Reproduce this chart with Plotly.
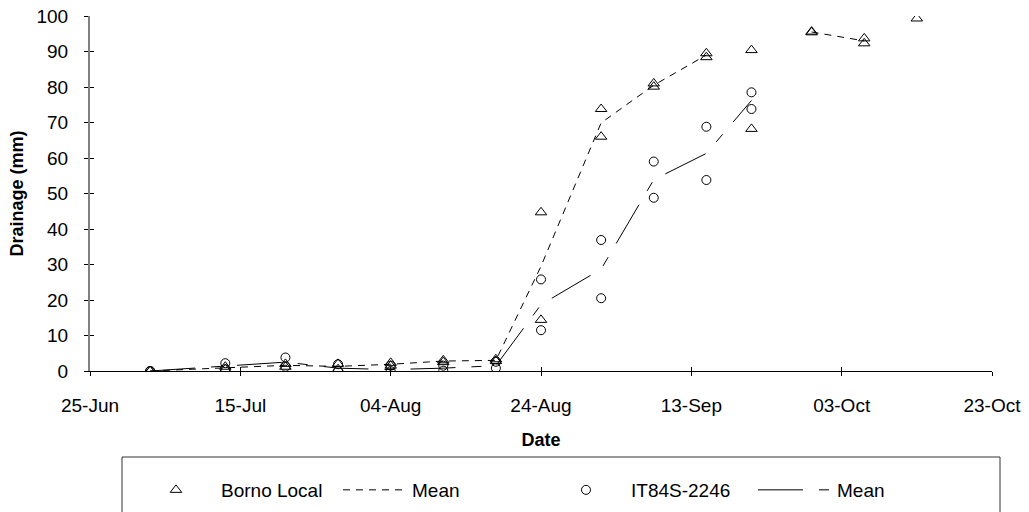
import plotly.graph_objects as go

# ---- data ----
dates = ["2000-07-03", "2000-07-13", "2000-07-21", "2000-07-28", "2000-08-04",
         "2000-08-11", "2000-08-18", "2000-08-24", "2000-09-01", "2000-09-08",
         "2000-09-15", "2000-09-21", "2000-09-29", "2000-10-06", "2000-10-13"]

borno_rep1 = [0, 0.5, 1.2, 0.5, 1.5, 2.5, 2.8, 44.7, 73.8, 81.0, 89.5, 90.4, 95.6, 93.7, 99.3]
borno_rep2 = [0, 1.2, 2.0, 2.0, 2.3, 3.0, 3.3, 14.4, 66.0, 80.1, 88.4, 68.2, 95.4, 92.3, None]
borno_mean = [0, 0.8, 1.6, 1.3, 1.9, 2.8, 3.0, 29.5, 69.9, 80.5, 89.0, None, 95.5, 93.0, None]

it_rep1 = [0, 2.2, 3.8, 1.9, 1.5, 1.5, 2.6, 25.8, 36.9, 59.0, 68.8, 78.5, None, None, None]
it_rep2 = [0, 0.5, 1.2, 0.0, 0.0, 0.1, 0.8, 11.5, 20.5, 48.8, 53.8, 73.8, None, None, None]
it_mean = [0, 1.3, 2.5, 0.8, 0.4, 0.8, 1.5, 18.7, 28.7, 53.9, 61.3, 76.2, None, None, None]

x_tick_vals = ["2000-06-25", "2000-07-15", "2000-08-04", "2000-08-24",
               "2000-09-13", "2000-10-03", "2000-10-23"]
x_tick_text = ["25-Jun", "15-Jul", "04-Aug", "24-Aug", "13-Sep", "03-Oct", "23-Oct"]
y_tick_vals = [0, 10, 20, 30, 40, 50, 60, 70, 80, 90, 100]

series_names = ["Borno Local", "Mean", "IT84S-2246", "Mean"]

FONT = "Liberation Sans, Arial, sans-serif"
FS = 19

fig = go.Figure()
fig.add_trace(go.Scatter(
    x=dates + dates, y=borno_rep1 + borno_rep2, mode="markers", name=series_names[0],
    marker=dict(symbol="triangle-up-open", size=10, color="black", line=dict(width=1, color="black")),
    legend="legend"))
fig.add_trace(go.Scatter(
    x=dates, y=borno_mean, mode="lines", name=series_names[1],
    line=dict(color="black", width=1, dash="7px,6px"), connectgaps=False,
    legend="legend2"))
fig.add_trace(go.Scatter(
    x=dates + dates, y=it_rep1 + it_rep2, mode="markers", name=series_names[2],
    marker=dict(symbol="circle-open", size=9, color="black", line=dict(width=1, color="black")),
    legend="legend3"))
fig.add_trace(go.Scatter(
    x=dates, y=it_mean, mode="lines", name=series_names[3],
    line=dict(color="black", width=1, dash="45px,16px,10px,16px"), connectgaps=False,
    legend="legend4"))
# empty helper trace so the overlay axes (inner half of the crossing ticks) get drawn
fig.add_trace(go.Scatter(x=[], y=[], xaxis="x2", yaxis="y2", showlegend=False,
                         hoverinfo="skip", mode="markers"))

# plot area at 90..992 x 16..371 (page body margin removed by post_script)
L, R, T = 90, 37, 16
W, H = 1029, 512
pw, ph = 902, 355
B = H - T - ph

def px(p):  # page pixel -> paper x
    return (p - 90) / pw

def py(p):  # page pixel -> paper y
    return (371 - p) / ph

leg_common = dict(orientation="h", xanchor="left", yanchor="top",
                  font=dict(family=FONT, size=FS, color="black"),
                  bgcolor="rgba(0,0,0,0)", borderwidth=0)
ly = py(471)

fig.update_layout(
    width=W, height=H,
    margin=dict(l=L, r=R, t=T, b=B, pad=0, autoexpand=False),
    paper_bgcolor="white", plot_bgcolor="white",
    font=dict(family=FONT, size=FS, color="black"),
    showlegend=True,
    legend=dict(x=px(131), y=ly, itemwidth=80, **leg_common),
    legend2=dict(x=px(338), y=ly, itemwidth=64, **leg_common),
    legend3=dict(x=px(541), y=ly, itemwidth=80, **leg_common),
    legend4=dict(x=px(753), y=ly, itemwidth=74, **leg_common),
    xaxis=dict(
        type="date", range=[x_tick_vals[0], x_tick_vals[-1]],
        tickvals=x_tick_vals, ticktext=x_tick_text,
        ticks="outside", ticklen=4, tickwidth=1, tickcolor="black",
        showline=True, linecolor="black", linewidth=1,
        showgrid=False, zeroline=False, automargin=False,
        ticklabelstandoff=13, ticklabeloverflow="allow",
        tickfont=dict(family=FONT, size=FS, color="black"),
        title=dict(text="<b>Date</b>", standoff=18,
                   font=dict(family=FONT, size=18, color="black")),
    ),
    yaxis=dict(
        range=[0, 100], tickvals=y_tick_vals,
        ticks="outside", ticklen=4, tickwidth=1, tickcolor="black",
        showline=True, linecolor="#808080", linewidth=2,
        showgrid=False, zeroline=False, automargin=False,
        ticklabelstandoff=12, ticklabeloverflow="allow",
        tickfont=dict(family=FONT, size=FS, color="black"),
        title=dict(text="<b>Drainage (mm)</b>", standoff=8,
                   font=dict(family=FONT, size=18, color="black")),
    ),
    xaxis2=dict(
        type="date", range=[x_tick_vals[0], x_tick_vals[-1]], overlaying="x", anchor="y",
        tickvals=x_tick_vals, ticks="inside", ticklen=4, tickwidth=1, tickcolor="black",
        showticklabels=False, showline=False, showgrid=False, zeroline=False, automargin=False,
    ),
    yaxis2=dict(
        range=[0, 100], overlaying="y", anchor="x", side="left",
        tickvals=y_tick_vals, ticks="inside", ticklen=4, tickwidth=1, tickcolor="black",
        showticklabels=False, showline=False, showgrid=False, zeroline=False, automargin=False,
    ),
    shapes=[dict(type="rect", xref="paper", yref="paper",
                 x0=px(122), x1=px(1000), y0=py(540), y1=py(457),
                 line=dict(color="#333333", width=1), fillcolor="rgba(0,0,0,0)")],
)

fig.write_html("out.html",
               config={"displayModeBar": False},
               post_script="document.body.style.margin='0';document.body.style.overflow='hidden';")
